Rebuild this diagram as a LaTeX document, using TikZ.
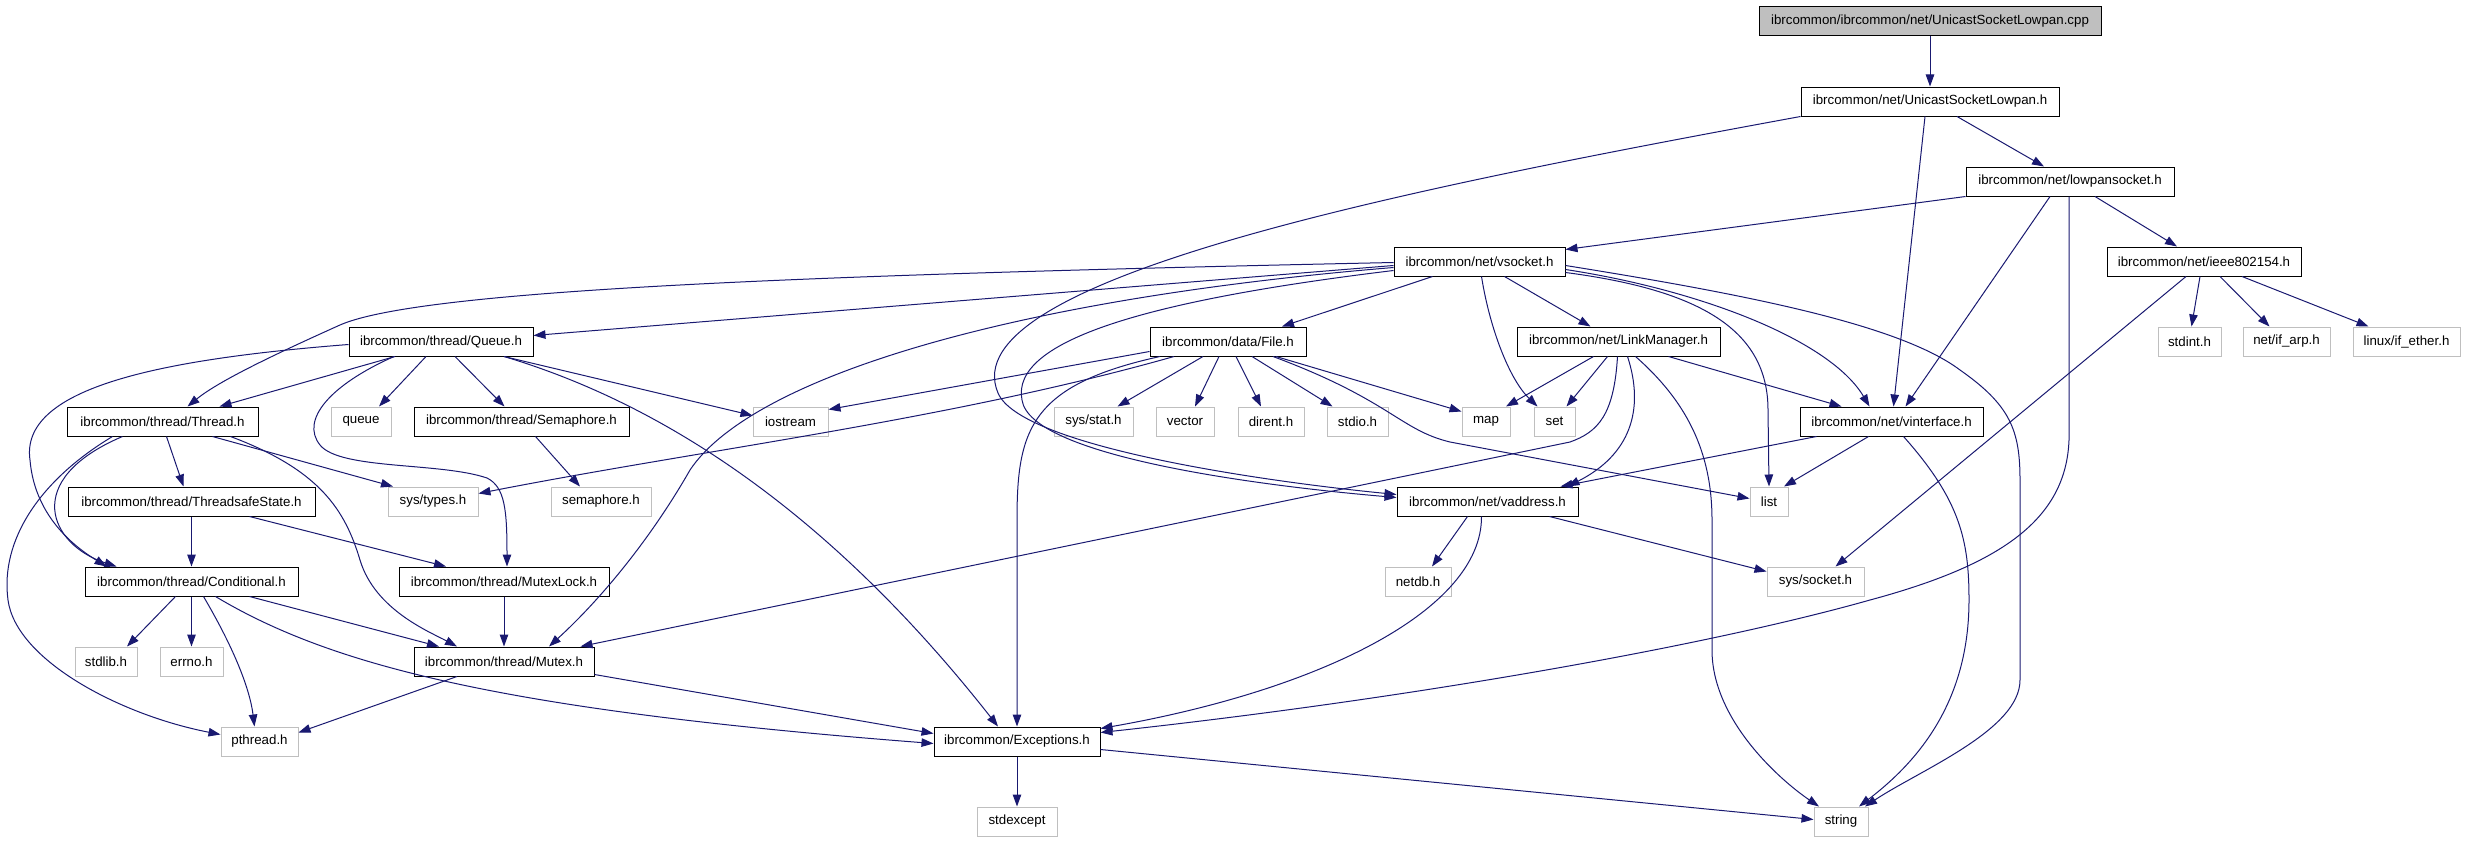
\documentclass[tikz,border=0pt]{standalone}
\usepackage{fontspec}
\setmainfont{Liberation Sans}
\usetikzlibrary{arrows.meta}
\definecolor{edgec}{HTML}{191970}
\definecolor{grayb}{HTML}{BFBFBF}
\begin{document}
\begin{tikzpicture}[x=1pt,y=-1pt,
  hdr/.style={draw=black, line width=1pt, fill=white, minimum height=29pt, inner sep=0pt, font=\fontsize{13.3pt}{15pt}\selectfont},
  sysh/.style={hdr, draw=grayb},
  srcf/.style={hdr, fill=grayb},
  dep/.style={draw=edgec, line width=1pt, -{Triangle[length=12pt,width=8.5pt]}}]
\useasboundingbox (0,0) rectangle (2465,843);
% rank 0-3
\node[srcf, minimum width=342pt] (cpp) at (1930,21) {ibrcommon/ibrcommon/net/UnicastSocketLowpan.cpp};
\node[hdr, minimum width=258pt] (ush) at (1930,101.5) {ibrcommon/net/UnicastSocketLowpan.h};
\node[hdr, minimum width=208pt] (lps) at (2070,181.5) {ibrcommon/net/lowpansocket.h};
\node[hdr, minimum width=171pt] (vsock) at (1479.5,261.5) {ibrcommon/net/vsocket.h};
\node[hdr, minimum width=194pt] (ieee) at (2204,261.5) {ibrcommon/net/ieee802154.h};
% rank 4
\node[hdr, minimum width=184pt] (queueh) at (441,341.5) {ibrcommon/thread/Queue.h};
\node[hdr, minimum width=156pt] (file) at (1228,341.5) {ibrcommon/data/File.h};
\node[hdr, minimum width=203pt] (lm) at (1618.5,341.5) {ibrcommon/net/LinkManager.h};
\node[sysh, minimum width=63pt] (stdint) at (2189.5,341.5) {stdint.h};
\node[sysh, minimum width=87pt] (ifarp) at (2286.5,341.5) {net/if\_arp.h};
\node[sysh, minimum width=107pt] (ifether) at (2406.5,341.5) {linux/if\_ether.h};
% rank 5
\node[hdr, minimum width=191pt] (thread) at (162.5,421.5) {ibrcommon/thread/Thread.h};
\node[sysh, minimum width=60pt] (queue) at (361,421.5) {queue};
\node[hdr, minimum width=215pt] (sema) at (521.5,421.5) {ibrcommon/thread/Semaphore.h};
\node[sysh, minimum width=75pt] (iostream) at (790.5,421.5) {iostream};
\node[sysh, minimum width=79pt] (sysstat) at (1093.5,421.5) {sys/stat.h};
\node[sysh, minimum width=58pt] (vector) at (1185,421.5) {vector};
\node[sysh, minimum width=66pt] (dirent) at (1271,421.5) {dirent.h};
\node[sysh, minimum width=61pt] (stdio) at (1357.5,421.5) {stdio.h};
\node[sysh, minimum width=48pt] (map) at (1486,421.5) {map};
\node[sysh, minimum width=41pt] (set) at (1554.5,421.5) {set};
\node[hdr, minimum width=183pt] (vinterface) at (1891.5,421.5) {ibrcommon/net/vinterface.h};
% rank 6
\node[hdr, minimum width=247pt] (tss) at (191.5,501.5) {ibrcommon/thread/ThreadsafeState.h};
\node[sysh, minimum width=90pt] (systypes) at (433,501.5) {sys/types.h};
\node[sysh, minimum width=100pt] (semaphoreh) at (601,501.5) {semaphore.h};
\node[hdr, minimum width=181pt] (vaddress) at (1487.5,501.5) {ibrcommon/net/vaddress.h};
\node[sysh, minimum width=38pt] (list) at (1769,501.5) {list};
% rank 7
\node[hdr, minimum width=213pt] (cond) at (191.5,581.5) {ibrcommon/thread/Conditional.h};
\node[hdr, minimum width=210pt] (mutexlock) at (504,581.5) {ibrcommon/thread/MutexLock.h};
\node[sysh, minimum width=66pt] (netdb) at (1418,581.5) {netdb.h};
\node[sysh, minimum width=97pt] (syssocket) at (1815.5,581.5) {sys/socket.h};
% rank 8
\node[sysh, minimum width=62pt] (stdlib) at (106,661.5) {stdlib.h};
\node[sysh, minimum width=63pt] (errno) at (191.5,661.5) {errno.h};
\node[hdr, minimum width=180pt] (mutex) at (504,661.5) {ibrcommon/thread/Mutex.h};
% rank 9-10
\node[sysh, minimum width=77pt] (pthread) at (259.5,741.5) {pthread.h};
\node[hdr, minimum width=166pt] (exceptions) at (1017,741.5) {ibrcommon/Exceptions.h};
\node[sysh, minimum width=80pt] (stdexcept) at (1017,821.5) {stdexcept};
\node[sysh, minimum width=54pt] (string) at (1841,821.5) {string};

% edges
\draw[dep] (cpp.south) -- (ush.north);
\draw[dep] ([xshift=27pt]ush.south) -- ([xshift=-26pt]lps.north);
\draw[dep] ([xshift=-5pt]ush.south) -- ([xshift=2pt]vinterface.north);
\draw[dep] (ush.south west) .. controls (1400,190) and (950,280) .. (998,393) .. controls (1020,445) and (1250,480) .. ([yshift=7pt]vaddress.west);

\draw[dep] (lps.south west) -- ([yshift=-3pt]vsock.north east);
\draw[dep] ([xshift=-20pt]lps.south) -- ([xshift=14pt]vinterface.north);
\draw[dep] ([xshift=25pt]lps.south) -- ([xshift=-27pt]ieee.north);
\draw[dep] ([xshift=-1pt]lps.south) -- (2069,440) .. controls (2066,520) and (2000,565) .. (1870,600) .. controls (1700,648) and (1400,700) .. ([yshift=9pt]exceptions.east);

\draw[dep] ([xshift=-4pt]ieee.south) -- ([xshift=2pt]stdint.north);
\draw[dep] ([xshift=16pt]ieee.south) -- ([xshift=-17pt]ifarp.north);
\draw[dep] ([xshift=38pt]ieee.south) -- ([xshift=-38pt]ifether.north);
\draw[dep] ([xshift=-18pt]ieee.south) -- ([xshift=20pt]syssocket.north);

\draw[dep] ([yshift=-4pt]vsock.west) -- ([yshift=6pt]queueh.east);
\draw[dep] ([yshift=-1pt]vsock.west) .. controls (800,275) and (420,290) .. (340,325) .. controls (280,352) and (220,380) .. ([xshift=25pt]thread.north);
\draw[dep] ([yshift=-6pt]vsock.west) .. controls (1000,300) and (750,380) .. (690,470) .. controls (650,540) and (600,600) .. ([xshift=45pt]mutex.north);
\draw[dep] ([xshift=-47pt]vsock.south) -- ([xshift=54pt]file.north);
\draw[dep] ([xshift=25pt]vsock.south) -- ([xshift=-28pt]lm.north);
\draw[dep] ([xshift=2pt]vsock.south) .. controls (1490,330) and (1510,380) .. ([xshift=-17pt]set.north);
\draw[dep] ([yshift=-8pt]vsock.east) .. controls (1700,290) and (1830,340) .. ([xshift=-22pt]vinterface.north);
\draw[dep] ([yshift=-11pt]vsock.east) .. controls (1700,290) and (1768,330) .. (1768,410) -- (list.north);
\draw[dep] ([yshift=-4pt]vsock.east) .. controls (1750,295) and (1900,325) .. (1960,370) .. controls (2010,405) and (2020,430) .. (2020,480) -- (2020,680) .. controls (2020,730) and (1920,770) .. ([xshift=24pt]string.north);
\draw[dep] ([yshift=-9pt]vsock.west) .. controls (1150,300) and (1010,340) .. (1022,400) .. controls (1030,455) and (1250,485) .. ([yshift=4pt]vaddress.west);

\draw[dep] ([xshift=-46pt]queueh.south) -- ([xshift=57pt]thread.north);
\draw[dep] ([yshift=-3pt]queueh.west) .. controls (150,360) and (20,390) .. (30,460) .. controls (35,520) and (80,550) .. ([xshift=-85pt]cond.north);
\draw[dep] ([xshift=-15pt]queueh.south) -- ([xshift=18pt]queue.north);
\draw[dep] ([xshift=14pt]queueh.south) -- ([xshift=-17pt]sema.north);
\draw[dep] ([xshift=-47pt]queueh.south) .. controls (330,385) and (300,420) .. (320,445) .. controls (340,470) and (440,462) .. (487,478) .. controls (505,487) and (507,510) .. ([xshift=3pt]mutexlock.north);
\draw[dep] ([xshift=63pt]queueh.south) -- ([yshift=6pt]iostream.west);
\draw[dep] ([xshift=63pt]queueh.south) .. controls (650,400) and (820,500) .. ([xshift=-19pt]exceptions.north);

\draw[dep] ([yshift=-10pt]file.west) -- ([yshift=-3pt]iostream.north east);
\draw[dep] ([xshift=-54pt]file.south) .. controls (950,420) and (700,450) .. ([yshift=8pt]systypes.east);
\draw[dep] ([xshift=-25pt]file.south) -- ([xshift=24pt]sysstat.north);
\draw[dep] ([xshift=-9pt]file.south) -- ([xshift=10pt]vector.north);
\draw[dep] ([xshift=8pt]file.south) -- ([xshift=-10pt]dirent.north);
\draw[dep] ([xshift=24pt]file.south) -- ([xshift=-25pt]stdio.north);
\draw[dep] ([xshift=48pt]file.south) -- ([yshift=10pt]map.west);
\draw[dep] ([xshift=45pt]file.south) .. controls (1390,400) and (1400,430) .. (1450,442) -- ([yshift=3pt]list.west);
\draw[dep] ([xshift=-68pt]file.south) .. controls (1030,385) and (1017,430) .. (1017,520) -- (exceptions.north);

\draw[dep] ([xshift=-25pt]lm.south) -- ([xshift=20pt]map.north);
\draw[dep] ([xshift=-11pt]lm.south) -- ([xshift=12pt]set.north);
\draw[dep] ([xshift=50pt]lm.south) -- ([xshift=-50pt]vinterface.north);
\draw[dep] ([xshift=9pt]lm.south) .. controls (1645,410) and (1630,455) .. ([xshift=80pt]vaddress.north);
\draw[dep] ([xshift=-1pt]lm.south) .. controls (1614,415) and (1598,432) .. (1570,442) -- ([xshift=-14pt]mutex.north east);
\draw[dep] ([xshift=17pt]lm.south) .. controls (1685,400) and (1712,450) .. (1712,520) -- (1712,650) .. controls (1712,720) and (1780,780) .. ([xshift=-22pt]string.north);

\draw[dep] ([xshift=-40pt]thread.south) .. controls (20,480) and (50,545) .. ([xshift=-75pt]cond.north);
\draw[dep] ([xshift=-50pt]thread.south) .. controls (40,480) and (0,540) .. (8,600) .. controls (16,660) and (120,715) .. ([yshift=7pt]pthread.west);
\draw[dep] ([xshift=4pt]thread.south) -- ([xshift=-8pt]tss.north);
\draw[dep] ([xshift=50pt]thread.south) -- ([xshift=-40pt]systypes.north);
\draw[dep] ([xshift=68pt]thread.south) .. controls (320,470) and (345,510) .. (360,560) .. controls (375,610) and (430,632) .. ([xshift=-47pt]mutex.north);

\draw[dep] (tss.south) -- (cond.north);
\draw[dep] ([xshift=58pt]tss.south) -- ([xshift=-58pt]mutexlock.north);
\draw[dep] ([xshift=14pt]sema.south) -- ([xshift=-21pt]semaphoreh.north);

\draw[dep] ([xshift=-16pt]cond.south) -- ([xshift=21pt]stdlib.north);
\draw[dep] (cond.south) -- (errno.north);
\draw[dep] ([xshift=12pt]cond.south) .. controls (235,650) and (250,690) .. ([xshift=-5pt]pthread.north);
\draw[dep] ([xshift=58pt]cond.south) -- ([xshift=-65pt]mutex.north);
\draw[dep] ([xshift=24pt]cond.south) .. controls (330,665) and (500,710) .. ([yshift=-2pt]exceptions.west);

\draw[dep] (mutexlock.south) -- (mutex.north);
\draw[dep] ([xshift=-47pt]mutex.south) -- ([yshift=-6pt]pthread.north east);
\draw[dep] ([yshift=2pt]mutex.south east) -- ([yshift=8pt]exceptions.west);

\draw[dep] ([xshift=-75pt]vinterface.south) -- ([xshift=73pt]vaddress.north);
\draw[dep] ([xshift=-23pt]vinterface.south) -- ([xshift=15pt]list.north);
\draw[dep] ([xshift=12pt]vinterface.south) .. controls (1960,500) and (1969,540) .. (1969,600) .. controls (1969,700) and (1920,760) .. ([xshift=18pt]string.north);

\draw[dep] ([xshift=-20pt]vaddress.south) -- ([xshift=14pt]netdb.north);
\draw[dep] ([xshift=62pt]vaddress.south) -- ([yshift=10pt]syssocket.west);
\draw[dep] ([xshift=-6pt]vaddress.south) .. controls (1482,610) and (1320,690) .. ([yshift=-2pt]exceptions.north east);

\draw[dep] (exceptions.south) -- (stdexcept.north);
\draw[dep] ([yshift=-8pt]exceptions.east) -- ([yshift=2pt]string.west);
\end{tikzpicture}
\end{document}
